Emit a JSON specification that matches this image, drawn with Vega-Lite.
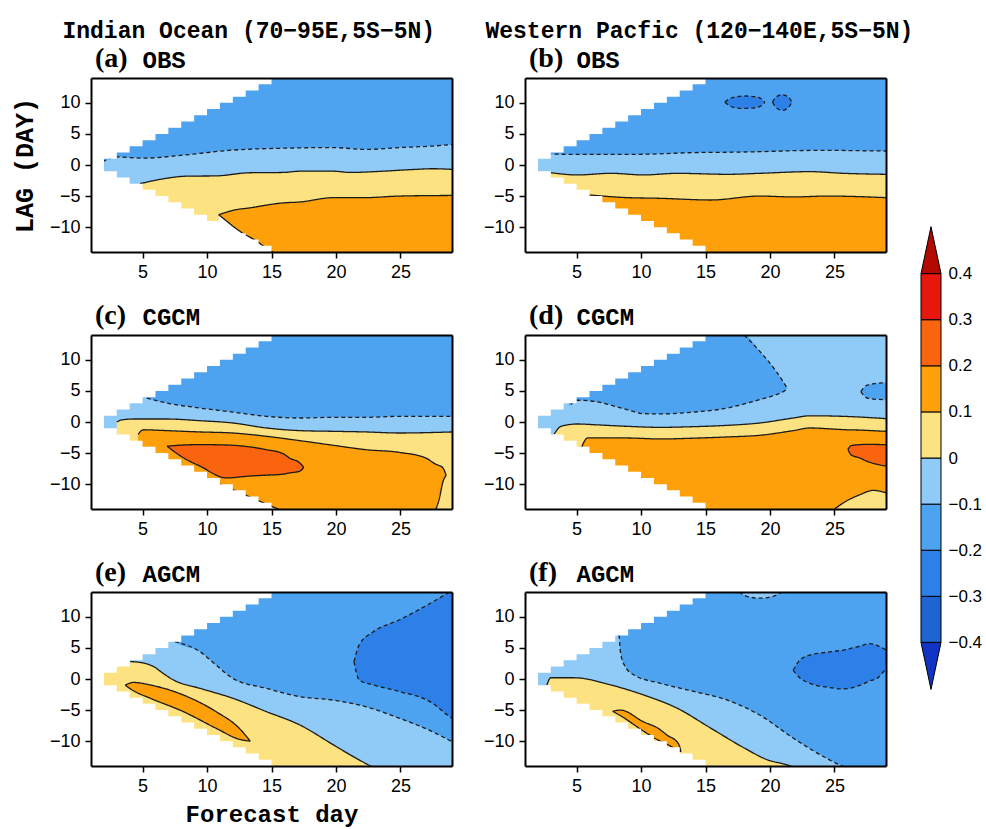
{
"$schema":"https://vega.github.io/schema/vega-lite/v6.json",
"background":"white",
"padding":{"left":12,"top":20,"right":0,"bottom":6},
"config":{"view":{"stroke":null},"title":{"color":"black"}},
"datasets":{
"msk":[{"x":1,"t":-1,"b":1},{"x":2,"t":1,"b":-1},{"x":3,"t":2,"b":-2},{"x":4,"t":3,"b":-3},{"x":5,"t":4,"b":-4},{"x":6,"t":5,"b":-5},{"x":7,"t":6,"b":-6},{"x":8,"t":7,"b":-7},{"x":9,"t":8,"b":-8},{"x":10,"t":9,"b":-9},{"x":11,"t":10,"b":-10},{"x":12,"t":11,"b":-11},{"x":13,"t":12,"b":-12},{"x":14,"t":13,"b":-13},{"x":15,"t":14,"b":-14}],
"cb":[{"lo":-0.5,"hi":-0.4,"v":-0.45},{"lo":-0.4,"hi":-0.3,"v":-0.35},{"lo":-0.3,"hi":-0.2,"v":-0.25},{"lo":-0.2,"hi":-0.1,"v":-0.15},{"lo":-0.1,"hi":0,"v":-0.05},{"lo":0,"hi":0.1,"v":0.05},{"lo":0.1,"hi":0.2,"v":0.15},{"lo":0.2,"hi":0.3,"v":0.25},{"lo":0.3,"hi":0.4,"v":0.35},{"lo":0.4,"hi":0.5,"v":0.45}],
"reg":[
{"p":"a","r":"a0","z":0,"v":-0.15,"x":1,"lo":-14,"hi":14},
{"p":"a","r":"a0","z":0,"v":-0.15,"x":29,"lo":-14,"hi":14},
{"p":"a","r":"a1","z":1,"v":-0.05,"x":1.9,"lo":-14,"hi":0.5,"hf":1},
{"p":"a","r":"a1","z":1,"v":-0.05,"x":3,"lo":-14,"hi":1.3,"hf":1},
{"p":"a","r":"a1","z":1,"v":-0.05,"x":5.1,"lo":-14,"hi":1.1,"hf":1},
{"p":"a","r":"a1","z":1,"v":-0.05,"x":8.2,"lo":-14,"hi":1.6,"hf":1},
{"p":"a","r":"a1","z":1,"v":-0.05,"x":12,"lo":-14,"hi":2.4,"hf":1},
{"p":"a","r":"a1","z":1,"v":-0.05,"x":15.9,"lo":-14,"hi":2.7,"hf":1},
{"p":"a","r":"a1","z":1,"v":-0.05,"x":19.8,"lo":-14,"hi":2.8,"hf":1},
{"p":"a","r":"a1","z":1,"v":-0.05,"x":22.3,"lo":-14,"hi":2.5,"hf":1},
{"p":"a","r":"a1","z":1,"v":-0.05,"x":24.9,"lo":-14,"hi":2.8,"hf":1},
{"p":"a","r":"a1","z":1,"v":-0.05,"x":27.5,"lo":-14,"hi":3.05,"hf":1},
{"p":"a","r":"a1","z":1,"v":-0.05,"x":29,"lo":-14,"hi":3.3,"hf":1},
{"p":"a","r":"a2","z":2,"v":0.05,"x":4.3,"lo":-14,"hi":-3.2},
{"p":"a","r":"a2","z":2,"v":0.05,"x":4.8,"lo":-14,"hi":-3.0,"hf":1},
{"p":"a","r":"a2","z":2,"v":0.05,"x":6.4,"lo":-14,"hi":-2.3,"hf":1},
{"p":"a","r":"a2","z":2,"v":0.05,"x":8.4,"lo":-14,"hi":-1.8,"hf":1},
{"p":"a","r":"a2","z":2,"v":0.05,"x":10.7,"lo":-14,"hi":-1.75,"hf":1},
{"p":"a","r":"a2","z":2,"v":0.05,"x":13.3,"lo":-14,"hi":-1.25,"hf":1},
{"p":"a","r":"a2","z":2,"v":0.05,"x":15.9,"lo":-14,"hi":-1.2,"hf":1},
{"p":"a","r":"a2","z":2,"v":0.05,"x":17.2,"lo":-14,"hi":-1.0,"hf":1},
{"p":"a","r":"a2","z":2,"v":0.05,"x":19.8,"lo":-14,"hi":-1.0,"hf":1},
{"p":"a","r":"a2","z":2,"v":0.05,"x":21.1,"lo":-14,"hi":-1.2,"hf":1},
{"p":"a","r":"a2","z":2,"v":0.05,"x":23.6,"lo":-14,"hi":-1.0,"hf":1},
{"p":"a","r":"a2","z":2,"v":0.05,"x":26.2,"lo":-14,"hi":-0.7,"hf":1},
{"p":"a","r":"a2","z":2,"v":0.05,"x":27.5,"lo":-14,"hi":-0.6,"hf":1},
{"p":"a","r":"a2","z":2,"v":0.05,"x":29,"lo":-14,"hi":-0.7,"hf":1},
{"p":"a","r":"a3","z":3,"v":0.15,"x":10.9,"lo":-14,"hi":-8.0,"hf":1},
{"p":"a","r":"a3","z":3,"v":0.15,"x":11.5,"lo":-14,"hi":-7.6,"hf":1},
{"p":"a","r":"a3","z":3,"v":0.15,"x":12,"lo":-14,"hi":-7.3,"hf":1},
{"p":"a","r":"a3","z":3,"v":0.15,"x":13.3,"lo":-14,"hi":-6.9,"hf":1},
{"p":"a","r":"a3","z":3,"v":0.15,"x":15.9,"lo":-14,"hi":-6.1,"hf":1},
{"p":"a","r":"a3","z":3,"v":0.15,"x":17.2,"lo":-14,"hi":-5.95,"hf":1},
{"p":"a","r":"a3","z":3,"v":0.15,"x":19.8,"lo":-14,"hi":-5.25,"hf":1},
{"p":"a","r":"a3","z":3,"v":0.15,"x":22.3,"lo":-14,"hi":-5.25,"hf":1},
{"p":"a","r":"a3","z":3,"v":0.15,"x":24.9,"lo":-14,"hi":-5.0,"hf":1},
{"p":"a","r":"a3","z":3,"v":0.15,"x":29,"lo":-14,"hi":-4.9,"hf":1},
{"p":"a","r":"a4","z":4,"v":9,"x":10.9,"lo":-14,"hi":-8.0,"hf":1},
{"p":"a","r":"a4","z":4,"v":9,"x":11.5,"lo":-14,"hi":-9.0,"hf":1},
{"p":"a","r":"a4","z":4,"v":9,"x":12.5,"lo":-14,"hi":-10.6,"hf":1},
{"p":"a","r":"a4","z":4,"v":9,"x":13.8,"lo":-14,"hi":-12.2,"hf":1},
{"p":"a","r":"a4","z":4,"v":9,"x":15.0,"lo":-14,"hi":-13.9,"hf":1},
{"p":"a","r":"a4","z":4,"v":9,"x":15.3,"lo":-14,"hi":-14.2,"hf":1},
{"p":"b","r":"b0","z":0,"v":-0.15,"x":1,"lo":-14,"hi":14},
{"p":"b","r":"b0","z":0,"v":-0.15,"x":29,"lo":-14,"hi":14},
{"p":"b","r":"b1","z":1,"v":-0.25,"x":16.5,"lo":10.1,"hi":10.1,"lf":1,"hf":1},
{"p":"b","r":"b1","z":1,"v":-0.25,"x":16.9,"lo":9.5,"hi":10.7,"lf":1,"hf":1},
{"p":"b","r":"b1","z":1,"v":-0.25,"x":17.5,"lo":9.15,"hi":11.0,"lf":1,"hf":1},
{"p":"b","r":"b1","z":1,"v":-0.25,"x":18.1,"lo":9.1,"hi":11.1,"lf":1,"hf":1},
{"p":"b","r":"b1","z":1,"v":-0.25,"x":18.8,"lo":9.2,"hi":11.0,"lf":1,"hf":1},
{"p":"b","r":"b1","z":1,"v":-0.25,"x":19.3,"lo":9.5,"hi":10.7,"lf":1,"hf":1},
{"p":"b","r":"b1","z":1,"v":-0.25,"x":19.6,"lo":10.1,"hi":10.1,"lf":1,"hf":1},
{"p":"b","r":"b2","z":1,"v":-0.25,"x":20.2,"lo":10.1,"hi":10.1,"lf":1,"hf":1},
{"p":"b","r":"b2","z":1,"v":-0.25,"x":20.45,"lo":9.3,"hi":10.9,"lf":1,"hf":1},
{"p":"b","r":"b2","z":1,"v":-0.25,"x":20.95,"lo":8.8,"hi":11.3,"lf":1,"hf":1},
{"p":"b","r":"b2","z":1,"v":-0.25,"x":21.45,"lo":9.3,"hi":10.9,"lf":1,"hf":1},
{"p":"b","r":"b2","z":1,"v":-0.25,"x":21.7,"lo":10.1,"hi":10.1,"lf":1,"hf":1},
{"p":"b","r":"b3","z":1,"v":-0.05,"x":1.5,"lo":-14,"hi":1.8},
{"p":"b","r":"b3","z":1,"v":-0.05,"x":3.3,"lo":-14,"hi":1.75,"hf":1},
{"p":"b","r":"b3","z":1,"v":-0.05,"x":5.5,"lo":-14,"hi":1.7,"hf":1},
{"p":"b","r":"b3","z":1,"v":-0.05,"x":8.9,"lo":-14,"hi":1.7,"hf":1},
{"p":"b","r":"b3","z":1,"v":-0.05,"x":11.5,"lo":-14,"hi":1.8,"hf":1},
{"p":"b","r":"b3","z":1,"v":-0.05,"x":14.1,"lo":-14,"hi":2.0,"hf":1},
{"p":"b","r":"b3","z":1,"v":-0.05,"x":16.7,"lo":-14,"hi":2.05,"hf":1},
{"p":"b","r":"b3","z":1,"v":-0.05,"x":19.2,"lo":-14,"hi":2.14,"hf":1},
{"p":"b","r":"b3","z":1,"v":-0.05,"x":21.8,"lo":-14,"hi":2.3,"hf":1},
{"p":"b","r":"b3","z":1,"v":-0.05,"x":24.4,"lo":-14,"hi":2.36,"hf":1},
{"p":"b","r":"b3","z":1,"v":-0.05,"x":26.9,"lo":-14,"hi":2.3,"hf":1},
{"p":"b","r":"b3","z":1,"v":-0.05,"x":29,"lo":-14,"hi":2.25,"hf":1},
{"p":"b","r":"b4","z":2,"v":0.05,"x":2.8,"lo":-14,"hi":-1.3},
{"p":"b","r":"b4","z":2,"v":0.05,"x":3.0,"lo":-14,"hi":-1.23,"hf":1},
{"p":"b","r":"b4","z":2,"v":0.05,"x":5.07,"lo":-14,"hi":-1.6,"hf":1},
{"p":"b","r":"b4","z":2,"v":0.05,"x":7.65,"lo":-14,"hi":-1.34,"hf":1},
{"p":"b","r":"b4","z":2,"v":0.05,"x":10.2,"lo":-14,"hi":-1.6,"hf":1},
{"p":"b","r":"b4","z":2,"v":0.05,"x":12.8,"lo":-14,"hi":-1.34,"hf":1},
{"p":"b","r":"b4","z":2,"v":0.05,"x":16.7,"lo":-14,"hi":-1.5,"hf":1},
{"p":"b","r":"b4","z":2,"v":0.05,"x":19.2,"lo":-14,"hi":-1.34,"hf":1},
{"p":"b","r":"b4","z":2,"v":0.05,"x":23.1,"lo":-14,"hi":-1.07,"hf":1},
{"p":"b","r":"b4","z":2,"v":0.05,"x":25.7,"lo":-14,"hi":-1.34,"hf":1},
{"p":"b","r":"b4","z":2,"v":0.05,"x":29,"lo":-14,"hi":-1.5,"hf":1},
{"p":"b","r":"b5","z":3,"v":0.15,"x":5.6,"lo":-14,"hi":-4.9},
{"p":"b","r":"b5","z":3,"v":0.15,"x":6.0,"lo":-14,"hi":-4.82,"hf":1},
{"p":"b","r":"b5","z":3,"v":0.15,"x":8.94,"lo":-14,"hi":-5.25,"hf":1},
{"p":"b","r":"b5","z":3,"v":0.15,"x":11.5,"lo":-14,"hi":-5.36,"hf":1},
{"p":"b","r":"b5","z":3,"v":0.15,"x":15.4,"lo":-14,"hi":-5.63,"hf":1},
{"p":"b","r":"b5","z":3,"v":0.15,"x":19.2,"lo":-14,"hi":-5.0,"hf":1},
{"p":"b","r":"b5","z":3,"v":0.15,"x":21.8,"lo":-14,"hi":-5.14,"hf":1},
{"p":"b","r":"b5","z":3,"v":0.15,"x":24.4,"lo":-14,"hi":-5.0,"hf":1},
{"p":"b","r":"b5","z":3,"v":0.15,"x":29,"lo":-14,"hi":-5.25,"hf":1},
{"p":"c","r":"c0","z":0,"v":-0.15,"x":1,"lo":-14,"hi":14},
{"p":"c","r":"c0","z":0,"v":-0.15,"x":29,"lo":-14,"hi":14},
{"p":"c","r":"c1","z":1,"v":-0.05,"x":1.5,"lo":-14,"hi":3.5},
{"p":"c","r":"c1","z":1,"v":-0.05,"x":4.8,"lo":-14,"hi":4.3},
{"p":"c","r":"c1","z":1,"v":-0.05,"x":5.33,"lo":-14,"hi":3.86,"hf":1},
{"p":"c","r":"c1","z":1,"v":-0.05,"x":6.9,"lo":-14,"hi":3.05,"hf":1},
{"p":"c","r":"c1","z":1,"v":-0.05,"x":9.45,"lo":-14,"hi":2.25,"hf":1},
{"p":"c","r":"c1","z":1,"v":-0.05,"x":12,"lo":-14,"hi":1.6,"hf":1},
{"p":"c","r":"c1","z":1,"v":-0.05,"x":14.6,"lo":-14,"hi":0.91,"hf":1},
{"p":"c","r":"c1","z":1,"v":-0.05,"x":17.2,"lo":-14,"hi":0.64,"hf":1},
{"p":"c","r":"c1","z":1,"v":-0.05,"x":19.8,"lo":-14,"hi":0.75,"hf":1},
{"p":"c","r":"c1","z":1,"v":-0.05,"x":22.3,"lo":-14,"hi":0.75,"hf":1},
{"p":"c","r":"c1","z":1,"v":-0.05,"x":24.9,"lo":-14,"hi":0.91,"hf":1},
{"p":"c","r":"c1","z":1,"v":-0.05,"x":29,"lo":-14,"hi":0.91,"hf":1},
{"p":"c","r":"c2","z":2,"v":0.05,"x":3.0,"lo":-14,"hi":0.0,"hf":1},
{"p":"c","r":"c2","z":2,"v":0.05,"x":3.4,"lo":-14,"hi":0.35,"hf":1},
{"p":"c","r":"c2","z":2,"v":0.05,"x":4.3,"lo":-14,"hi":0.48,"hf":1},
{"p":"c","r":"c2","z":2,"v":0.05,"x":6.9,"lo":-14,"hi":0.48,"hf":1},
{"p":"c","r":"c2","z":2,"v":0.05,"x":9.45,"lo":-14,"hi":0.21,"hf":1},
{"p":"c","r":"c2","z":2,"v":0.05,"x":12,"lo":-14,"hi":-0.16,"hf":1},
{"p":"c","r":"c2","z":2,"v":0.05,"x":14.6,"lo":-14,"hi":-0.96,"hf":1},
{"p":"c","r":"c2","z":2,"v":0.05,"x":17.2,"lo":-14,"hi":-1.39,"hf":1},
{"p":"c","r":"c2","z":2,"v":0.05,"x":19.8,"lo":-14,"hi":-1.5,"hf":1},
{"p":"c","r":"c2","z":2,"v":0.05,"x":22.3,"lo":-14,"hi":-1.6,"hf":1},
{"p":"c","r":"c2","z":2,"v":0.05,"x":24.9,"lo":-14,"hi":-1.77,"hf":1},
{"p":"c","r":"c2","z":2,"v":0.05,"x":29,"lo":-14,"hi":-1.6,"hf":1},
{"p":"c","r":"c3","z":3,"v":0.15,"x":4.65,"lo":-3.0,"hi":-2.0,"hf":1},
{"p":"c","r":"c3","z":3,"v":0.15,"x":5.07,"lo":-14,"hi":-1.25,"hf":1},
{"p":"c","r":"c3","z":3,"v":0.15,"x":6.9,"lo":-14,"hi":-1.39,"hf":1},
{"p":"c","r":"c3","z":3,"v":0.15,"x":9.45,"lo":-14,"hi":-1.6,"hf":1},
{"p":"c","r":"c3","z":3,"v":0.15,"x":12,"lo":-14,"hi":-1.77,"hf":1},
{"p":"c","r":"c3","z":3,"v":0.15,"x":14.6,"lo":-14,"hi":-2.3,"hf":1},
{"p":"c","r":"c3","z":3,"v":0.15,"x":17.2,"lo":-14,"hi":-3.0,"hf":1},
{"p":"c","r":"c3","z":3,"v":0.15,"x":19.8,"lo":-14,"hi":-3.75,"hf":1},
{"p":"c","r":"c3","z":3,"v":0.15,"x":22.3,"lo":-14,"hi":-4.45,"hf":1},
{"p":"c","r":"c3","z":3,"v":0.15,"x":24.9,"lo":-14,"hi":-4.88,"hf":1},
{"p":"c","r":"c3","z":3,"v":0.15,"x":26.98,"lo":-14,"hi":-5.8,"hf":1},
{"p":"c","r":"c3","z":3,"v":0.15,"x":27.75,"lo":-14,"hi":-6.8,"lf":1,"hf":1},
{"p":"c","r":"c3","z":3,"v":0.15,"x":28.0,"lo":-12.5,"hi":-7.0,"lf":1,"hf":1},
{"p":"c","r":"c3","z":3,"v":0.15,"x":28.3,"lo":-9.6,"hi":-7.4,"lf":1,"hf":1},
{"p":"c","r":"c3","z":3,"v":0.15,"x":28.55,"lo":-8.6,"hi":-8.6,"lf":1,"hf":1},
{"p":"c","r":"c4","z":4,"v":0.25,"x":6.9,"lo":-3.9,"hi":-3.9,"lf":1,"hf":1},
{"p":"c","r":"c4","z":4,"v":0.25,"x":8.2,"lo":-5.8,"hi":-3.7,"lf":1,"hf":1},
{"p":"c","r":"c4","z":4,"v":0.25,"x":9.45,"lo":-7.1,"hi":-3.64,"lf":1,"hf":1},
{"p":"c","r":"c4","z":4,"v":0.25,"x":11.5,"lo":-9.0,"hi":-3.7,"lf":1,"hf":1},
{"p":"c","r":"c4","z":4,"v":0.25,"x":13.3,"lo":-8.7,"hi":-4.0,"lf":1,"hf":1},
{"p":"c","r":"c4","z":4,"v":0.25,"x":14.6,"lo":-8.55,"hi":-4.45,"lf":1,"hf":1},
{"p":"c","r":"c4","z":4,"v":0.25,"x":15.9,"lo":-8.4,"hi":-5.1,"lf":1,"hf":1},
{"p":"c","r":"c4","z":4,"v":0.25,"x":16.4,"lo":-8.2,"hi":-5.8,"lf":1,"hf":1},
{"p":"c","r":"c4","z":4,"v":0.25,"x":17.2,"lo":-7.9,"hi":-6.6,"lf":1,"hf":1},
{"p":"c","r":"c4","z":4,"v":0.25,"x":17.5,"lo":-7.3,"hi":-7.3,"lf":1,"hf":1},
{"p":"c","r":"c5","z":4,"v":9,"x":11.0,"lo":-14,"hi":-10.0,"hf":1},
{"p":"c","r":"c5","z":4,"v":9,"x":15.6,"lo":-14,"hi":-14.1,"hf":1},
{"p":"d","r":"d0","z":0,"v":-0.05,"x":1,"lo":-14,"hi":14},
{"p":"d","r":"d0","z":0,"v":-0.05,"x":29,"lo":-14,"hi":14},
{"p":"d","r":"d1","z":1,"v":-0.15,"x":4.4,"lo":2.6,"hi":14},
{"p":"d","r":"d1","z":1,"v":-0.15,"x":4.56,"lo":2.8,"hi":14,"lf":1},
{"p":"d","r":"d1","z":1,"v":-0.15,"x":5.07,"lo":3.5,"hi":14,"lf":1},
{"p":"d","r":"d1","z":1,"v":-0.15,"x":6.4,"lo":3.3,"hi":14,"lf":1},
{"p":"d","r":"d1","z":1,"v":-0.15,"x":8.9,"lo":2.0,"hi":14,"lf":1},
{"p":"d","r":"d1","z":1,"v":-0.15,"x":10.2,"lo":1.34,"hi":14,"lf":1},
{"p":"d","r":"d1","z":1,"v":-0.15,"x":11.5,"lo":1.3,"hi":14,"lf":1},
{"p":"d","r":"d1","z":1,"v":-0.15,"x":14.1,"lo":1.6,"hi":14,"lf":1},
{"p":"d","r":"d1","z":1,"v":-0.15,"x":16.7,"lo":2.25,"hi":14,"lf":1},
{"p":"d","r":"d1","z":1,"v":-0.15,"x":18.0,"lo":2.9,"hi":14,"lf":1,"hf":1},
{"p":"d","r":"d1","z":1,"v":-0.15,"x":19.2,"lo":3.6,"hi":11.4,"lf":1,"hf":1},
{"p":"d","r":"d1","z":1,"v":-0.15,"x":20.5,"lo":4.4,"hi":8.1,"lf":1,"hf":1},
{"p":"d","r":"d1","z":1,"v":-0.15,"x":21.05,"lo":4.9,"hi":6.4,"lf":1,"hf":1},
{"p":"d","r":"d1","z":1,"v":-0.15,"x":21.35,"lo":5.4,"hi":5.4,"lf":1,"hf":1},
{"p":"d","r":"d2","z":1,"v":-0.15,"x":27.05,"lo":4.9,"hi":4.9,"lf":1,"hf":1},
{"p":"d","r":"d2","z":1,"v":-0.15,"x":27.5,"lo":3.9,"hi":5.9,"lf":1,"hf":1},
{"p":"d","r":"d2","z":1,"v":-0.15,"x":28.2,"lo":3.65,"hi":6.2,"lf":1,"hf":1},
{"p":"d","r":"d2","z":1,"v":-0.15,"x":29,"lo":3.6,"hi":6.3,"lf":1,"hf":1},
{"p":"d","r":"d3","z":1,"v":0.05,"x":3.0,"lo":-14,"hi":-2.5},
{"p":"d","r":"d3","z":1,"v":0.05,"x":3.27,"lo":-14,"hi":-1.93,"hf":1},
{"p":"d","r":"d3","z":1,"v":0.05,"x":3.8,"lo":-14,"hi":-0.7,"hf":1},
{"p":"d","r":"d3","z":1,"v":0.05,"x":5.07,"lo":-14,"hi":-0.32,"hf":1},
{"p":"d","r":"d3","z":1,"v":0.05,"x":6.5,"lo":-14,"hi":-0.45,"hf":1},
{"p":"d","r":"d3","z":1,"v":0.05,"x":8.94,"lo":-14,"hi":-0.7,"hf":1},
{"p":"d","r":"d3","z":1,"v":0.05,"x":11.5,"lo":-14,"hi":-0.86,"hf":1},
{"p":"d","r":"d3","z":1,"v":0.05,"x":14.1,"lo":-14,"hi":-0.75,"hf":1},
{"p":"d","r":"d3","z":1,"v":0.05,"x":16.7,"lo":-14,"hi":-0.54,"hf":1},
{"p":"d","r":"d3","z":1,"v":0.05,"x":19.2,"lo":-14,"hi":-0.16,"hf":1},
{"p":"d","r":"d3","z":1,"v":0.05,"x":21.8,"lo":-14,"hi":0.64,"hf":1},
{"p":"d","r":"d3","z":1,"v":0.05,"x":23.1,"lo":-14,"hi":1.0,"hf":1},
{"p":"d","r":"d3","z":1,"v":0.05,"x":25.7,"lo":-14,"hi":0.91,"hf":1},
{"p":"d","r":"d3","z":1,"v":0.05,"x":29,"lo":-14,"hi":0.54,"hf":1},
{"p":"d","r":"d4","z":2,"v":0.15,"x":5.4,"lo":-14,"hi":-4.0,"hf":1},
{"p":"d","r":"d4","z":2,"v":0.15,"x":5.85,"lo":-14,"hi":-2.57,"hf":1},
{"p":"d","r":"d4","z":2,"v":0.15,"x":8.9,"lo":-14,"hi":-2.57,"hf":1},
{"p":"d","r":"d4","z":2,"v":0.15,"x":11.5,"lo":-14,"hi":-2.73,"hf":1},
{"p":"d","r":"d4","z":2,"v":0.15,"x":14.1,"lo":-14,"hi":-2.6,"hf":1},
{"p":"d","r":"d4","z":2,"v":0.15,"x":16.7,"lo":-14,"hi":-2.4,"hf":1},
{"p":"d","r":"d4","z":2,"v":0.15,"x":19.2,"lo":-14,"hi":-2.14,"hf":1},
{"p":"d","r":"d4","z":2,"v":0.15,"x":21.8,"lo":-14,"hi":-1.39,"hf":1},
{"p":"d","r":"d4","z":2,"v":0.15,"x":23.1,"lo":-14,"hi":-0.96,"hf":1},
{"p":"d","r":"d4","z":2,"v":0.15,"x":25.0,"lo":-14,"hi":-1.15,"lf":1,"hf":1},
{"p":"d","r":"d4","z":2,"v":0.15,"x":25.9,"lo":-12.75,"hi":-1.25,"lf":1,"hf":1},
{"p":"d","r":"d4","z":2,"v":0.15,"x":26.98,"lo":-11.7,"hi":-1.3,"lf":1,"hf":1},
{"p":"d","r":"d4","z":2,"v":0.15,"x":28.0,"lo":-11.0,"hi":-1.4,"lf":1,"hf":1},
{"p":"d","r":"d4","z":2,"v":0.15,"x":29,"lo":-11.4,"hi":-1.5,"lf":1,"hf":1},
{"p":"d","r":"d5","z":3,"v":0.25,"x":26.05,"lo":-4.4,"hi":-4.4,"lf":1,"hf":1},
{"p":"d","r":"d5","z":3,"v":0.25,"x":26.3,"lo":-5.3,"hi":-3.8,"lf":1,"hf":1},
{"p":"d","r":"d5","z":3,"v":0.25,"x":26.98,"lo":-5.8,"hi":-3.64,"lf":1,"hf":1},
{"p":"d","r":"d5","z":3,"v":0.25,"x":27.5,"lo":-6.3,"hi":-3.6,"lf":1,"hf":1},
{"p":"d","r":"d5","z":3,"v":0.25,"x":28.3,"lo":-6.8,"hi":-3.62,"lf":1,"hf":1},
{"p":"d","r":"d5","z":3,"v":0.25,"x":29,"lo":-7.1,"hi":-3.64,"lf":1,"hf":1},
{"p":"e","r":"e0","z":0,"v":-0.05,"x":1,"lo":-14,"hi":14},
{"p":"e","r":"e0","z":0,"v":-0.05,"x":29,"lo":-14,"hi":14},
{"p":"e","r":"e1","z":1,"v":-0.15,"x":7.2,"lo":6.8,"hi":14},
{"p":"e","r":"e1","z":1,"v":-0.15,"x":7.5,"lo":6.0,"hi":14,"lf":1},
{"p":"e","r":"e1","z":1,"v":-0.15,"x":9.45,"lo":4.4,"hi":14,"lf":1},
{"p":"e","r":"e1","z":1,"v":-0.15,"x":10.7,"lo":2.25,"hi":14,"lf":1},
{"p":"e","r":"e1","z":1,"v":-0.15,"x":12.0,"lo":0.1,"hi":14,"lf":1},
{"p":"e","r":"e1","z":1,"v":-0.15,"x":14.6,"lo":-1.5,"hi":14,"lf":1},
{"p":"e","r":"e1","z":1,"v":-0.15,"x":17.2,"lo":-2.84,"hi":14,"lf":1},
{"p":"e","r":"e1","z":1,"v":-0.15,"x":19.8,"lo":-3.4,"hi":14,"lf":1},
{"p":"e","r":"e1","z":1,"v":-0.15,"x":22.3,"lo":-4.45,"hi":14,"lf":1},
{"p":"e","r":"e1","z":1,"v":-0.15,"x":24.9,"lo":-6.3,"hi":14,"lf":1},
{"p":"e","r":"e1","z":1,"v":-0.15,"x":27.5,"lo":-8.5,"hi":14,"lf":1},
{"p":"e","r":"e1","z":1,"v":-0.15,"x":29,"lo":-10.1,"hi":14,"lf":1},
{"p":"e","r":"e2","z":2,"v":-0.25,"x":21.4,"lo":2.8,"hi":2.8,"lf":1,"hf":1},
{"p":"e","r":"e2","z":2,"v":-0.25,"x":21.8,"lo":-0.16,"hi":5.5,"lf":1,"hf":1},
{"p":"e","r":"e2","z":2,"v":-0.25,"x":22.9,"lo":-0.96,"hi":7.6,"lf":1,"hf":1},
{"p":"e","r":"e2","z":2,"v":-0.25,"x":24.9,"lo":-2.0,"hi":9.5,"lf":1,"hf":1},
{"p":"e","r":"e2","z":2,"v":-0.25,"x":27.5,"lo":-3.9,"hi":12.4,"lf":1,"hf":1},
{"p":"e","r":"e2","z":2,"v":-0.25,"x":28.65,"lo":-5.8,"hi":13.8,"lf":1,"hf":1},
{"p":"e","r":"e2","z":2,"v":-0.25,"x":29,"lo":-6.3,"hi":14.2,"lf":1,"hf":1},
{"p":"e","r":"e3","z":1,"v":0.05,"x":1.5,"lo":-14,"hi":14},
{"p":"e","r":"e3","z":1,"v":0.05,"x":3.8,"lo":-14,"hi":14},
{"p":"e","r":"e3","z":1,"v":0.05,"x":4.04,"lo":-14,"hi":2.8,"hf":1},
{"p":"e","r":"e3","z":1,"v":0.05,"x":5.0,"lo":-14,"hi":2.6,"hf":1},
{"p":"e","r":"e3","z":1,"v":0.05,"x":5.85,"lo":-14,"hi":2.0,"hf":1},
{"p":"e","r":"e3","z":1,"v":0.05,"x":6.6,"lo":-14,"hi":0.9,"hf":1},
{"p":"e","r":"e3","z":1,"v":0.05,"x":7.4,"lo":-14,"hi":-0.16,"hf":1},
{"p":"e","r":"e3","z":1,"v":0.05,"x":9.45,"lo":-14,"hi":-1.5,"hf":1},
{"p":"e","r":"e3","z":1,"v":0.05,"x":12.0,"lo":-14,"hi":-3.1,"hf":1},
{"p":"e","r":"e3","z":1,"v":0.05,"x":14.6,"lo":-14,"hi":-5.25,"hf":1},
{"p":"e","r":"e3","z":1,"v":0.05,"x":17.2,"lo":-14,"hi":-7.4,"hf":1},
{"p":"e","r":"e3","z":1,"v":0.05,"x":19.8,"lo":-14,"hi":-10.6,"hf":1},
{"p":"e","r":"e3","z":1,"v":0.05,"x":21.1,"lo":-14,"hi":-12.2,"hf":1},
{"p":"e","r":"e3","z":1,"v":0.05,"x":22.5,"lo":-14,"hi":-13.8,"hf":1},
{"p":"e","r":"e3","z":1,"v":0.05,"x":23,"lo":-14,"hi":-14.3,"hf":1},
{"p":"e","r":"e4","z":2,"v":0.15,"x":3.65,"lo":-1.0,"hi":-1.0,"lf":1,"hf":1},
{"p":"e","r":"e4","z":2,"v":0.15,"x":4.3,"lo":-1.9,"hi":-0.55,"lf":1,"hf":1},
{"p":"e","r":"e4","z":2,"v":0.15,"x":5.6,"lo":-3.1,"hi":-0.96,"lf":1,"hf":1},
{"p":"e","r":"e4","z":2,"v":0.15,"x":8.16,"lo":-5.25,"hi":-2.57,"lf":1,"hf":1},
{"p":"e","r":"e4","z":2,"v":0.15,"x":10.7,"lo":-7.93,"hi":-5.25,"lf":1,"hf":1},
{"p":"e","r":"e4","z":2,"v":0.15,"x":12.5,"lo":-9.7,"hi":-7.93,"lf":1,"hf":1},
{"p":"e","r":"e4","z":2,"v":0.15,"x":13.35,"lo":-10.0,"hi":-10.0,"lf":1,"hf":1},
{"p":"f","r":"f0","z":0,"v":-0.05,"x":1,"lo":-14,"hi":14},
{"p":"f","r":"f0","z":0,"v":-0.05,"x":29,"lo":-14,"hi":14},
{"p":"f","r":"f1","z":1,"v":-0.15,"x":8.2,"lo":7.5,"hi":14},
{"p":"f","r":"f1","z":1,"v":-0.15,"x":8.3,"lo":7.1,"hi":14,"lf":1},
{"p":"f","r":"f1","z":1,"v":-0.15,"x":8.4,"lo":4.4,"hi":14,"lf":1},
{"p":"f","r":"f1","z":1,"v":-0.15,"x":8.7,"lo":2.25,"hi":14,"lf":1},
{"p":"f","r":"f1","z":1,"v":-0.15,"x":9.45,"lo":0.64,"hi":14,"lf":1},
{"p":"f","r":"f1","z":1,"v":-0.15,"x":11.5,"lo":-0.7,"hi":14,"lf":1},
{"p":"f","r":"f1","z":1,"v":-0.15,"x":14.1,"lo":-2.0,"hi":14,"lf":1},
{"p":"f","r":"f1","z":1,"v":-0.15,"x":16.7,"lo":-3.4,"hi":14,"lf":1},
{"p":"f","r":"f1","z":1,"v":-0.15,"x":19.2,"lo":-5.8,"hi":14,"lf":1},
{"p":"f","r":"f1","z":1,"v":-0.15,"x":21.8,"lo":-9.5,"hi":14,"lf":1},
{"p":"f","r":"f1","z":1,"v":-0.15,"x":23.9,"lo":-12.2,"hi":14,"lf":1},
{"p":"f","r":"f1","z":1,"v":-0.15,"x":25.4,"lo":-13.8,"hi":14,"lf":1},
{"p":"f","r":"f1","z":1,"v":-0.15,"x":26,"lo":-14.3,"hi":14,"lf":1},
{"p":"f","r":"f1","z":1,"v":-0.15,"x":29,"lo":-14.3,"hi":14},
{"p":"f","r":"f2","z":2,"v":-0.05,"x":17.6,"lo":14,"hi":14,"lf":1},
{"p":"f","r":"f2","z":2,"v":-0.05,"x":18.2,"lo":13.3,"hi":14,"lf":1},
{"p":"f","r":"f2","z":2,"v":-0.05,"x":19.2,"lo":13.0,"hi":14,"lf":1},
{"p":"f","r":"f2","z":2,"v":-0.05,"x":20.0,"lo":13.2,"hi":14,"lf":1},
{"p":"f","r":"f2","z":2,"v":-0.05,"x":20.5,"lo":13.5,"hi":14,"lf":1},
{"p":"f","r":"f2","z":2,"v":-0.05,"x":20.9,"lo":14,"hi":14,"lf":1},
{"p":"f","r":"f3","z":2,"v":-0.25,"x":21.8,"lo":1.4,"hi":1.4,"lf":1,"hf":1},
{"p":"f","r":"f3","z":2,"v":-0.25,"x":22.3,"lo":0.2,"hi":3.0,"lf":1,"hf":1},
{"p":"f","r":"f3","z":2,"v":-0.25,"x":23.1,"lo":-0.7,"hi":3.86,"lf":1,"hf":1},
{"p":"f","r":"f3","z":2,"v":-0.25,"x":24.4,"lo":-1.3,"hi":4.3,"lf":1,"hf":1},
{"p":"f","r":"f3","z":2,"v":-0.25,"x":25.7,"lo":-1.6,"hi":4.66,"lf":1,"hf":1},
{"p":"f","r":"f3","z":2,"v":-0.25,"x":27.0,"lo":-1.0,"hi":5.3,"lf":1,"hf":1},
{"p":"f","r":"f3","z":2,"v":-0.25,"x":27.75,"lo":-0.3,"hi":5.7,"lf":1,"hf":1},
{"p":"f","r":"f3","z":2,"v":-0.25,"x":28.3,"lo":0.1,"hi":5.4,"lf":1,"hf":1},
{"p":"f","r":"f3","z":2,"v":-0.25,"x":29,"lo":1.7,"hi":4.66,"lf":1,"hf":1},
{"p":"f","r":"f4","z":1,"v":0.05,"x":2.0,"lo":-14,"hi":-1.5},
{"p":"f","r":"f4","z":1,"v":0.05,"x":2.7,"lo":-14,"hi":-0.96,"hf":1},
{"p":"f","r":"f4","z":1,"v":0.05,"x":3.0,"lo":-14,"hi":0.2,"hf":1},
{"p":"f","r":"f4","z":1,"v":0.05,"x":4.8,"lo":-14,"hi":0.2,"hf":1},
{"p":"f","r":"f4","z":1,"v":0.05,"x":7.65,"lo":-14,"hi":-0.96,"hf":1},
{"p":"f","r":"f4","z":1,"v":0.05,"x":10.2,"lo":-14,"hi":-2.57,"hf":1},
{"p":"f","r":"f4","z":1,"v":0.05,"x":12.8,"lo":-14,"hi":-4.7,"hf":1},
{"p":"f","r":"f4","z":1,"v":0.05,"x":15.4,"lo":-14,"hi":-7.9,"hf":1},
{"p":"f","r":"f4","z":1,"v":0.05,"x":18.0,"lo":-14,"hi":-11.1,"hf":1},
{"p":"f","r":"f4","z":1,"v":0.05,"x":19.8,"lo":-14,"hi":-13.0,"hf":1},
{"p":"f","r":"f4","z":1,"v":0.05,"x":21.3,"lo":-14,"hi":-13.8,"hf":1},
{"p":"f","r":"f4","z":1,"v":0.05,"x":22,"lo":-14,"hi":-14.3,"hf":1},
{"p":"f","r":"f5","z":2,"v":0.15,"x":7.8,"lo":-5.2,"hi":-5.2,"lf":1,"hf":1},
{"p":"f","r":"f5","z":2,"v":0.15,"x":8.4,"lo":-5.9,"hi":-5.0,"lf":1,"hf":1},
{"p":"f","r":"f5","z":2,"v":0.15,"x":10.2,"lo":-8.4,"hi":-6.9,"lf":1,"hf":1},
{"p":"f","r":"f5","z":2,"v":0.15,"x":11.3,"lo":-9.8,"hi":-7.9,"lf":1,"hf":1},
{"p":"f","r":"f5","z":2,"v":0.15,"x":12.0,"lo":-10.5,"hi":-9.0,"lf":1,"hf":1},
{"p":"f","r":"f5","z":2,"v":0.15,"x":12.9,"lo":-11.5,"hi":-10.4,"lf":1,"hf":1},
{"p":"f","r":"f5","z":2,"v":0.15,"x":13.1,"lo":-11.7,"hi":-11.7,"lf":1,"hf":1}
]},
"hconcat":[
{"hconcat":[
{"title":{"text":"Indian Ocean (70−95E,5S−5N)","anchor":"start","font":"Liberation Mono","fontSize":23,"fontWeight":"bold","dx":50,"offset":2},
 "spacing":21,
 "vconcat":[
 {"width":361,"height":174,
  "title":{"text":"(a)","anchor":"start","frame":"group","font":"Liberation Serif","fontSize":28,"fontWeight":"bold","dx":4,"offset":-47,"baseline":"alphabetic"},
  "layer":[
    {"data":{"name":"reg"},"transform":[{"filter":"datum.p=='a' && datum.z==0"}],"mark":{"type":"area","interpolate":"monotone","clip":true},"encoding":{"x":{"field":"x","type":"quantitative","scale":{"domain":[1,29],"nice":false,"zero":false},"axis":{"orient":"bottom","values":[5,10,15,20,25],"title":null,"zindex":1,"domainColor":"black","domainWidth":2,"tickColor":"black","tickWidth":1.5,"tickSize":6,"labelFont":"Liberation Sans","labelFontSize":18,"labelColor":"black","labelPadding":5,"grid":false}},"y":{"field":"lo","type":"quantitative","stack":null,"scale":{"domain":[-14,14],"nice":false,"zero":false},"axis":{"orient":"left","values":[-10,-5,0,5,10],"title":"LAG (DAY)","titleFont":"Liberation Mono","titleFontSize":25,"titleFontWeight":"bold","titleColor":"black","titlePadding":12,"zindex":1,"domainColor":"black","domainWidth":2,"tickColor":"black","tickWidth":1.5,"tickSize":6,"labelFont":"Liberation Sans","labelFontSize":18,"labelColor":"black","labelPadding":5,"grid":false}},"y2":{"field":"hi"},"color":{"field":"v","type":"quantitative","legend":null,"scale":{"type":"threshold","domain":[-0.4,-0.3,-0.2,-0.1,0,0.1,0.2,0.3,0.4,1],"range":["#1234C4","#1E64D2","#2D80E8","#4DA3F0","#90CBF7","#FDE282","#FDA00A","#FA640F","#E8170E","#B20A00","#FFFFFF"]}},"detail":{"field":"r"}}},
    {"data":{"name":"reg"},"transform":[{"filter":"datum.p=='a' && datum.z==1"}],"mark":{"type":"area","interpolate":"monotone","clip":true},"encoding":{"x":{"field":"x","type":"quantitative","scale":{"domain":[1,29],"nice":false,"zero":false},"axis":null},"y":{"field":"lo","type":"quantitative","stack":null,"scale":{"domain":[-14,14],"nice":false,"zero":false},"axis":null},"y2":{"field":"hi"},"color":{"field":"v","type":"quantitative","legend":null,"scale":{"type":"threshold","domain":[-0.4,-0.3,-0.2,-0.1,0,0.1,0.2,0.3,0.4,1],"range":["#1234C4","#1E64D2","#2D80E8","#4DA3F0","#90CBF7","#FDE282","#FDA00A","#FA640F","#E8170E","#B20A00","#FFFFFF"]}},"detail":{"field":"r"}}},
    {"data":{"name":"reg"},"transform":[{"filter":"datum.p=='a' && datum.z==2"}],"mark":{"type":"area","interpolate":"monotone","clip":true},"encoding":{"x":{"field":"x","type":"quantitative","scale":{"domain":[1,29],"nice":false,"zero":false},"axis":null},"y":{"field":"lo","type":"quantitative","stack":null,"scale":{"domain":[-14,14],"nice":false,"zero":false},"axis":null},"y2":{"field":"hi"},"color":{"field":"v","type":"quantitative","legend":null,"scale":{"type":"threshold","domain":[-0.4,-0.3,-0.2,-0.1,0,0.1,0.2,0.3,0.4,1],"range":["#1234C4","#1E64D2","#2D80E8","#4DA3F0","#90CBF7","#FDE282","#FDA00A","#FA640F","#E8170E","#B20A00","#FFFFFF"]}},"detail":{"field":"r"}}},
    {"data":{"name":"reg"},"transform":[{"filter":"datum.p=='a' && datum.z==3"}],"mark":{"type":"area","interpolate":"monotone","clip":true},"encoding":{"x":{"field":"x","type":"quantitative","scale":{"domain":[1,29],"nice":false,"zero":false},"axis":null},"y":{"field":"lo","type":"quantitative","stack":null,"scale":{"domain":[-14,14],"nice":false,"zero":false},"axis":null},"y2":{"field":"hi"},"color":{"field":"v","type":"quantitative","legend":null,"scale":{"type":"threshold","domain":[-0.4,-0.3,-0.2,-0.1,0,0.1,0.2,0.3,0.4,1],"range":["#1234C4","#1E64D2","#2D80E8","#4DA3F0","#90CBF7","#FDE282","#FDA00A","#FA640F","#E8170E","#B20A00","#FFFFFF"]}},"detail":{"field":"r"}}},
    {"data":{"name":"reg"},"transform":[{"filter":"datum.p=='a' && datum.z==4"}],"mark":{"type":"area","interpolate":"monotone","clip":true},"encoding":{"x":{"field":"x","type":"quantitative","scale":{"domain":[1,29],"nice":false,"zero":false},"axis":null},"y":{"field":"lo","type":"quantitative","stack":null,"scale":{"domain":[-14,14],"nice":false,"zero":false},"axis":null},"y2":{"field":"hi"},"color":{"field":"v","type":"quantitative","legend":null,"scale":{"type":"threshold","domain":[-0.4,-0.3,-0.2,-0.1,0,0.1,0.2,0.3,0.4,1],"range":["#1234C4","#1E64D2","#2D80E8","#4DA3F0","#90CBF7","#FDE282","#FDA00A","#FA640F","#E8170E","#B20A00","#FFFFFF"]}},"detail":{"field":"r"}}},
    {"data":{"name":"reg"},"transform":[{"filter":"datum.p=='a'"},{"fold":["lo","hi"],"as":["e","yy"]},{"filter":"(datum.e=='lo' && datum.lf==1) || (datum.e=='hi' && datum.hf==1)"}],"mark":{"type":"line","interpolate":"monotone","clip":true,"color":"#1b1b1b","strokeWidth":1.3},"encoding":{"x":{"field":"x","type":"quantitative","scale":{"domain":[1,29],"nice":false,"zero":false},"axis":null},"y":{"field":"yy","type":"quantitative","scale":{"domain":[-14,14],"nice":false,"zero":false},"axis":null},"detail":[{"field":"r"},{"field":"e"}],"strokeDash":{"condition":{"test":"datum.v < 0","value":[4,3]},"value":[1,0]}}},
    {"data":{"name":"msk"},"mark":{"type":"area","interpolate":"step-after","color":"white","clip":true},"encoding":{"x":{"field":"x","type":"quantitative","scale":{"domain":[1,29],"nice":false,"zero":false},"axis":{"orient":"top","labels":false,"ticks":false,"title":"OBS","titleFont":"Liberation Mono","titleFontSize":24,"titleFontWeight":"bold","titleColor":"black","titleAlign":"left","titleAnchor":"start","titleX":51,"titleY":-11,"titleBaseline":"alphabetic","zindex":1,"domainColor":"black","domainWidth":2,"grid":false}},"y":{"field":"t","type":"quantitative","stack":null,"scale":{"domain":[-14,14],"nice":false,"zero":false},"axis":{"orient":"right","labels":false,"ticks":false,"title":null,"zindex":1,"domainColor":"black","domainWidth":2,"grid":false}},"y2":{"datum":14}}},
    {"data":{"name":"msk"},"mark":{"type":"area","interpolate":"step-after","color":"white","clip":true},"encoding":{"x":{"field":"x","type":"quantitative","scale":{"domain":[1,29],"nice":false,"zero":false},"axis":null},"y":{"field":"b","type":"quantitative","stack":null,"scale":{"domain":[-14,14],"nice":false,"zero":false},"axis":null},"y2":{"datum":-14}}}
  ],
  "resolve":{"axis":{"x":"independent","y":"independent"}}
 },
 {"width":361,"height":174,
  "title":{"text":"(c)","anchor":"start","frame":"group","font":"Liberation Serif","fontSize":28,"fontWeight":"bold","dx":4,"offset":-47,"baseline":"alphabetic"},
  "layer":[
    {"data":{"name":"reg"},"transform":[{"filter":"datum.p=='c' && datum.z==0"}],"mark":{"type":"area","interpolate":"monotone","clip":true},"encoding":{"x":{"field":"x","type":"quantitative","scale":{"domain":[1,29],"nice":false,"zero":false},"axis":{"orient":"bottom","values":[5,10,15,20,25],"title":null,"zindex":1,"domainColor":"black","domainWidth":2,"tickColor":"black","tickWidth":1.5,"tickSize":6,"labelFont":"Liberation Sans","labelFontSize":18,"labelColor":"black","labelPadding":5,"grid":false}},"y":{"field":"lo","type":"quantitative","stack":null,"scale":{"domain":[-14,14],"nice":false,"zero":false},"axis":{"orient":"left","values":[-10,-5,0,5,10],"title":null,"zindex":1,"domainColor":"black","domainWidth":2,"tickColor":"black","tickWidth":1.5,"tickSize":6,"labelFont":"Liberation Sans","labelFontSize":18,"labelColor":"black","labelPadding":5,"grid":false}},"y2":{"field":"hi"},"color":{"field":"v","type":"quantitative","legend":null,"scale":{"type":"threshold","domain":[-0.4,-0.3,-0.2,-0.1,0,0.1,0.2,0.3,0.4,1],"range":["#1234C4","#1E64D2","#2D80E8","#4DA3F0","#90CBF7","#FDE282","#FDA00A","#FA640F","#E8170E","#B20A00","#FFFFFF"]}},"detail":{"field":"r"}}},
    {"data":{"name":"reg"},"transform":[{"filter":"datum.p=='c' && datum.z==1"}],"mark":{"type":"area","interpolate":"monotone","clip":true},"encoding":{"x":{"field":"x","type":"quantitative","scale":{"domain":[1,29],"nice":false,"zero":false},"axis":null},"y":{"field":"lo","type":"quantitative","stack":null,"scale":{"domain":[-14,14],"nice":false,"zero":false},"axis":null},"y2":{"field":"hi"},"color":{"field":"v","type":"quantitative","legend":null,"scale":{"type":"threshold","domain":[-0.4,-0.3,-0.2,-0.1,0,0.1,0.2,0.3,0.4,1],"range":["#1234C4","#1E64D2","#2D80E8","#4DA3F0","#90CBF7","#FDE282","#FDA00A","#FA640F","#E8170E","#B20A00","#FFFFFF"]}},"detail":{"field":"r"}}},
    {"data":{"name":"reg"},"transform":[{"filter":"datum.p=='c' && datum.z==2"}],"mark":{"type":"area","interpolate":"monotone","clip":true},"encoding":{"x":{"field":"x","type":"quantitative","scale":{"domain":[1,29],"nice":false,"zero":false},"axis":null},"y":{"field":"lo","type":"quantitative","stack":null,"scale":{"domain":[-14,14],"nice":false,"zero":false},"axis":null},"y2":{"field":"hi"},"color":{"field":"v","type":"quantitative","legend":null,"scale":{"type":"threshold","domain":[-0.4,-0.3,-0.2,-0.1,0,0.1,0.2,0.3,0.4,1],"range":["#1234C4","#1E64D2","#2D80E8","#4DA3F0","#90CBF7","#FDE282","#FDA00A","#FA640F","#E8170E","#B20A00","#FFFFFF"]}},"detail":{"field":"r"}}},
    {"data":{"name":"reg"},"transform":[{"filter":"datum.p=='c' && datum.z==3"}],"mark":{"type":"area","interpolate":"monotone","clip":true},"encoding":{"x":{"field":"x","type":"quantitative","scale":{"domain":[1,29],"nice":false,"zero":false},"axis":null},"y":{"field":"lo","type":"quantitative","stack":null,"scale":{"domain":[-14,14],"nice":false,"zero":false},"axis":null},"y2":{"field":"hi"},"color":{"field":"v","type":"quantitative","legend":null,"scale":{"type":"threshold","domain":[-0.4,-0.3,-0.2,-0.1,0,0.1,0.2,0.3,0.4,1],"range":["#1234C4","#1E64D2","#2D80E8","#4DA3F0","#90CBF7","#FDE282","#FDA00A","#FA640F","#E8170E","#B20A00","#FFFFFF"]}},"detail":{"field":"r"}}},
    {"data":{"name":"reg"},"transform":[{"filter":"datum.p=='c' && datum.z==4"}],"mark":{"type":"area","interpolate":"monotone","clip":true},"encoding":{"x":{"field":"x","type":"quantitative","scale":{"domain":[1,29],"nice":false,"zero":false},"axis":null},"y":{"field":"lo","type":"quantitative","stack":null,"scale":{"domain":[-14,14],"nice":false,"zero":false},"axis":null},"y2":{"field":"hi"},"color":{"field":"v","type":"quantitative","legend":null,"scale":{"type":"threshold","domain":[-0.4,-0.3,-0.2,-0.1,0,0.1,0.2,0.3,0.4,1],"range":["#1234C4","#1E64D2","#2D80E8","#4DA3F0","#90CBF7","#FDE282","#FDA00A","#FA640F","#E8170E","#B20A00","#FFFFFF"]}},"detail":{"field":"r"}}},
    {"data":{"name":"reg"},"transform":[{"filter":"datum.p=='c'"},{"fold":["lo","hi"],"as":["e","yy"]},{"filter":"(datum.e=='lo' && datum.lf==1) || (datum.e=='hi' && datum.hf==1)"}],"mark":{"type":"line","interpolate":"monotone","clip":true,"color":"#1b1b1b","strokeWidth":1.3},"encoding":{"x":{"field":"x","type":"quantitative","scale":{"domain":[1,29],"nice":false,"zero":false},"axis":null},"y":{"field":"yy","type":"quantitative","scale":{"domain":[-14,14],"nice":false,"zero":false},"axis":null},"detail":[{"field":"r"},{"field":"e"}],"strokeDash":{"condition":{"test":"datum.v < 0","value":[4,3]},"value":[1,0]}}},
    {"data":{"name":"msk"},"mark":{"type":"area","interpolate":"step-after","color":"white","clip":true},"encoding":{"x":{"field":"x","type":"quantitative","scale":{"domain":[1,29],"nice":false,"zero":false},"axis":{"orient":"top","labels":false,"ticks":false,"title":"CGCM","titleFont":"Liberation Mono","titleFontSize":24,"titleFontWeight":"bold","titleColor":"black","titleAlign":"left","titleAnchor":"start","titleX":51,"titleY":-11,"titleBaseline":"alphabetic","zindex":1,"domainColor":"black","domainWidth":2,"grid":false}},"y":{"field":"t","type":"quantitative","stack":null,"scale":{"domain":[-14,14],"nice":false,"zero":false},"axis":{"orient":"right","labels":false,"ticks":false,"title":null,"zindex":1,"domainColor":"black","domainWidth":2,"grid":false}},"y2":{"datum":14}}},
    {"data":{"name":"msk"},"mark":{"type":"area","interpolate":"step-after","color":"white","clip":true},"encoding":{"x":{"field":"x","type":"quantitative","scale":{"domain":[1,29],"nice":false,"zero":false},"axis":null},"y":{"field":"b","type":"quantitative","stack":null,"scale":{"domain":[-14,14],"nice":false,"zero":false},"axis":null},"y2":{"datum":-14}}}
  ],
  "resolve":{"axis":{"x":"independent","y":"independent"}}
 },
 {"width":361,"height":174,
  "title":{"text":"(e)","anchor":"start","frame":"group","font":"Liberation Serif","fontSize":28,"fontWeight":"bold","dx":4,"offset":-47,"baseline":"alphabetic"},
  "layer":[
    {"data":{"name":"reg"},"transform":[{"filter":"datum.p=='e' && datum.z==0"}],"mark":{"type":"area","interpolate":"monotone","clip":true},"encoding":{"x":{"field":"x","type":"quantitative","scale":{"domain":[1,29],"nice":false,"zero":false},"axis":{"orient":"bottom","values":[5,10,15,20,25],"title":"Forecast day","titleFont":"Liberation Mono","titleFontSize":24,"titleFontWeight":"bold","titleColor":"black","titlePadding":7,"zindex":1,"domainColor":"black","domainWidth":2,"tickColor":"black","tickWidth":1.5,"tickSize":6,"labelFont":"Liberation Sans","labelFontSize":18,"labelColor":"black","labelPadding":5,"grid":false}},"y":{"field":"lo","type":"quantitative","stack":null,"scale":{"domain":[-14,14],"nice":false,"zero":false},"axis":{"orient":"left","values":[-10,-5,0,5,10],"title":null,"zindex":1,"domainColor":"black","domainWidth":2,"tickColor":"black","tickWidth":1.5,"tickSize":6,"labelFont":"Liberation Sans","labelFontSize":18,"labelColor":"black","labelPadding":5,"grid":false}},"y2":{"field":"hi"},"color":{"field":"v","type":"quantitative","legend":null,"scale":{"type":"threshold","domain":[-0.4,-0.3,-0.2,-0.1,0,0.1,0.2,0.3,0.4,1],"range":["#1234C4","#1E64D2","#2D80E8","#4DA3F0","#90CBF7","#FDE282","#FDA00A","#FA640F","#E8170E","#B20A00","#FFFFFF"]}},"detail":{"field":"r"}}},
    {"data":{"name":"reg"},"transform":[{"filter":"datum.p=='e' && datum.z==1"}],"mark":{"type":"area","interpolate":"monotone","clip":true},"encoding":{"x":{"field":"x","type":"quantitative","scale":{"domain":[1,29],"nice":false,"zero":false},"axis":null},"y":{"field":"lo","type":"quantitative","stack":null,"scale":{"domain":[-14,14],"nice":false,"zero":false},"axis":null},"y2":{"field":"hi"},"color":{"field":"v","type":"quantitative","legend":null,"scale":{"type":"threshold","domain":[-0.4,-0.3,-0.2,-0.1,0,0.1,0.2,0.3,0.4,1],"range":["#1234C4","#1E64D2","#2D80E8","#4DA3F0","#90CBF7","#FDE282","#FDA00A","#FA640F","#E8170E","#B20A00","#FFFFFF"]}},"detail":{"field":"r"}}},
    {"data":{"name":"reg"},"transform":[{"filter":"datum.p=='e' && datum.z==2"}],"mark":{"type":"area","interpolate":"monotone","clip":true},"encoding":{"x":{"field":"x","type":"quantitative","scale":{"domain":[1,29],"nice":false,"zero":false},"axis":null},"y":{"field":"lo","type":"quantitative","stack":null,"scale":{"domain":[-14,14],"nice":false,"zero":false},"axis":null},"y2":{"field":"hi"},"color":{"field":"v","type":"quantitative","legend":null,"scale":{"type":"threshold","domain":[-0.4,-0.3,-0.2,-0.1,0,0.1,0.2,0.3,0.4,1],"range":["#1234C4","#1E64D2","#2D80E8","#4DA3F0","#90CBF7","#FDE282","#FDA00A","#FA640F","#E8170E","#B20A00","#FFFFFF"]}},"detail":{"field":"r"}}},
    {"data":{"name":"reg"},"transform":[{"filter":"datum.p=='e'"},{"fold":["lo","hi"],"as":["e","yy"]},{"filter":"(datum.e=='lo' && datum.lf==1) || (datum.e=='hi' && datum.hf==1)"}],"mark":{"type":"line","interpolate":"monotone","clip":true,"color":"#1b1b1b","strokeWidth":1.3},"encoding":{"x":{"field":"x","type":"quantitative","scale":{"domain":[1,29],"nice":false,"zero":false},"axis":null},"y":{"field":"yy","type":"quantitative","scale":{"domain":[-14,14],"nice":false,"zero":false},"axis":null},"detail":[{"field":"r"},{"field":"e"}],"strokeDash":{"condition":{"test":"datum.v < 0","value":[4,3]},"value":[1,0]}}},
    {"data":{"name":"msk"},"mark":{"type":"area","interpolate":"step-after","color":"white","clip":true},"encoding":{"x":{"field":"x","type":"quantitative","scale":{"domain":[1,29],"nice":false,"zero":false},"axis":{"orient":"top","labels":false,"ticks":false,"title":"AGCM","titleFont":"Liberation Mono","titleFontSize":24,"titleFontWeight":"bold","titleColor":"black","titleAlign":"left","titleAnchor":"start","titleX":51,"titleY":-11,"titleBaseline":"alphabetic","zindex":1,"domainColor":"black","domainWidth":2,"grid":false}},"y":{"field":"t","type":"quantitative","stack":null,"scale":{"domain":[-14,14],"nice":false,"zero":false},"axis":{"orient":"right","labels":false,"ticks":false,"title":null,"zindex":1,"domainColor":"black","domainWidth":2,"grid":false}},"y2":{"datum":14}}},
    {"data":{"name":"msk"},"mark":{"type":"area","interpolate":"step-after","color":"white","clip":true},"encoding":{"x":{"field":"x","type":"quantitative","scale":{"domain":[1,29],"nice":false,"zero":false},"axis":null},"y":{"field":"b","type":"quantitative","stack":null,"scale":{"domain":[-14,14],"nice":false,"zero":false},"axis":null},"y2":{"datum":-14}}}
  ],
  "resolve":{"axis":{"x":"independent","y":"independent"}}
 }
 ]},
{"title":{"text":"Western Pacfic (120−140E,5S−5N)","anchor":"start","font":"Liberation Mono","fontSize":23,"fontWeight":"bold","dx":2,"offset":2},
 "spacing":21,
 "vconcat":[
 {"width":361,"height":174,
  "title":{"text":"(b)","anchor":"start","frame":"group","font":"Liberation Serif","fontSize":28,"fontWeight":"bold","dx":4,"offset":-47,"baseline":"alphabetic"},
  "layer":[
    {"data":{"name":"reg"},"transform":[{"filter":"datum.p=='b' && datum.z==0"}],"mark":{"type":"area","interpolate":"monotone","clip":true},"encoding":{"x":{"field":"x","type":"quantitative","scale":{"domain":[1,29],"nice":false,"zero":false},"axis":{"orient":"bottom","values":[5,10,15,20,25],"title":null,"zindex":1,"domainColor":"black","domainWidth":2,"tickColor":"black","tickWidth":1.5,"tickSize":6,"labelFont":"Liberation Sans","labelFontSize":18,"labelColor":"black","labelPadding":5,"grid":false}},"y":{"field":"lo","type":"quantitative","stack":null,"scale":{"domain":[-14,14],"nice":false,"zero":false},"axis":{"orient":"left","values":[-10,-5,0,5,10],"title":null,"zindex":1,"domainColor":"black","domainWidth":2,"tickColor":"black","tickWidth":1.5,"tickSize":6,"labelFont":"Liberation Sans","labelFontSize":18,"labelColor":"black","labelPadding":5,"grid":false}},"y2":{"field":"hi"},"color":{"field":"v","type":"quantitative","legend":null,"scale":{"type":"threshold","domain":[-0.4,-0.3,-0.2,-0.1,0,0.1,0.2,0.3,0.4,1],"range":["#1234C4","#1E64D2","#2D80E8","#4DA3F0","#90CBF7","#FDE282","#FDA00A","#FA640F","#E8170E","#B20A00","#FFFFFF"]}},"detail":{"field":"r"}}},
    {"data":{"name":"reg"},"transform":[{"filter":"datum.p=='b' && datum.z==1"}],"mark":{"type":"area","interpolate":"monotone","clip":true},"encoding":{"x":{"field":"x","type":"quantitative","scale":{"domain":[1,29],"nice":false,"zero":false},"axis":null},"y":{"field":"lo","type":"quantitative","stack":null,"scale":{"domain":[-14,14],"nice":false,"zero":false},"axis":null},"y2":{"field":"hi"},"color":{"field":"v","type":"quantitative","legend":null,"scale":{"type":"threshold","domain":[-0.4,-0.3,-0.2,-0.1,0,0.1,0.2,0.3,0.4,1],"range":["#1234C4","#1E64D2","#2D80E8","#4DA3F0","#90CBF7","#FDE282","#FDA00A","#FA640F","#E8170E","#B20A00","#FFFFFF"]}},"detail":{"field":"r"}}},
    {"data":{"name":"reg"},"transform":[{"filter":"datum.p=='b' && datum.z==2"}],"mark":{"type":"area","interpolate":"monotone","clip":true},"encoding":{"x":{"field":"x","type":"quantitative","scale":{"domain":[1,29],"nice":false,"zero":false},"axis":null},"y":{"field":"lo","type":"quantitative","stack":null,"scale":{"domain":[-14,14],"nice":false,"zero":false},"axis":null},"y2":{"field":"hi"},"color":{"field":"v","type":"quantitative","legend":null,"scale":{"type":"threshold","domain":[-0.4,-0.3,-0.2,-0.1,0,0.1,0.2,0.3,0.4,1],"range":["#1234C4","#1E64D2","#2D80E8","#4DA3F0","#90CBF7","#FDE282","#FDA00A","#FA640F","#E8170E","#B20A00","#FFFFFF"]}},"detail":{"field":"r"}}},
    {"data":{"name":"reg"},"transform":[{"filter":"datum.p=='b' && datum.z==3"}],"mark":{"type":"area","interpolate":"monotone","clip":true},"encoding":{"x":{"field":"x","type":"quantitative","scale":{"domain":[1,29],"nice":false,"zero":false},"axis":null},"y":{"field":"lo","type":"quantitative","stack":null,"scale":{"domain":[-14,14],"nice":false,"zero":false},"axis":null},"y2":{"field":"hi"},"color":{"field":"v","type":"quantitative","legend":null,"scale":{"type":"threshold","domain":[-0.4,-0.3,-0.2,-0.1,0,0.1,0.2,0.3,0.4,1],"range":["#1234C4","#1E64D2","#2D80E8","#4DA3F0","#90CBF7","#FDE282","#FDA00A","#FA640F","#E8170E","#B20A00","#FFFFFF"]}},"detail":{"field":"r"}}},
    {"data":{"name":"reg"},"transform":[{"filter":"datum.p=='b'"},{"fold":["lo","hi"],"as":["e","yy"]},{"filter":"(datum.e=='lo' && datum.lf==1) || (datum.e=='hi' && datum.hf==1)"}],"mark":{"type":"line","interpolate":"monotone","clip":true,"color":"#1b1b1b","strokeWidth":1.3},"encoding":{"x":{"field":"x","type":"quantitative","scale":{"domain":[1,29],"nice":false,"zero":false},"axis":null},"y":{"field":"yy","type":"quantitative","scale":{"domain":[-14,14],"nice":false,"zero":false},"axis":null},"detail":[{"field":"r"},{"field":"e"}],"strokeDash":{"condition":{"test":"datum.v < 0","value":[4,3]},"value":[1,0]}}},
    {"data":{"name":"msk"},"mark":{"type":"area","interpolate":"step-after","color":"white","clip":true},"encoding":{"x":{"field":"x","type":"quantitative","scale":{"domain":[1,29],"nice":false,"zero":false},"axis":{"orient":"top","labels":false,"ticks":false,"title":"OBS","titleFont":"Liberation Mono","titleFontSize":24,"titleFontWeight":"bold","titleColor":"black","titleAlign":"left","titleAnchor":"start","titleX":51,"titleY":-11,"titleBaseline":"alphabetic","zindex":1,"domainColor":"black","domainWidth":2,"grid":false}},"y":{"field":"t","type":"quantitative","stack":null,"scale":{"domain":[-14,14],"nice":false,"zero":false},"axis":{"orient":"right","labels":false,"ticks":false,"title":null,"zindex":1,"domainColor":"black","domainWidth":2,"grid":false}},"y2":{"datum":14}}},
    {"data":{"name":"msk"},"mark":{"type":"area","interpolate":"step-after","color":"white","clip":true},"encoding":{"x":{"field":"x","type":"quantitative","scale":{"domain":[1,29],"nice":false,"zero":false},"axis":null},"y":{"field":"b","type":"quantitative","stack":null,"scale":{"domain":[-14,14],"nice":false,"zero":false},"axis":null},"y2":{"datum":-14}}}
  ],
  "resolve":{"axis":{"x":"independent","y":"independent"}}
 },
 {"width":361,"height":174,
  "title":{"text":"(d)","anchor":"start","frame":"group","font":"Liberation Serif","fontSize":28,"fontWeight":"bold","dx":4,"offset":-47,"baseline":"alphabetic"},
  "layer":[
    {"data":{"name":"reg"},"transform":[{"filter":"datum.p=='d' && datum.z==0"}],"mark":{"type":"area","interpolate":"monotone","clip":true},"encoding":{"x":{"field":"x","type":"quantitative","scale":{"domain":[1,29],"nice":false,"zero":false},"axis":{"orient":"bottom","values":[5,10,15,20,25],"title":null,"zindex":1,"domainColor":"black","domainWidth":2,"tickColor":"black","tickWidth":1.5,"tickSize":6,"labelFont":"Liberation Sans","labelFontSize":18,"labelColor":"black","labelPadding":5,"grid":false}},"y":{"field":"lo","type":"quantitative","stack":null,"scale":{"domain":[-14,14],"nice":false,"zero":false},"axis":{"orient":"left","values":[-10,-5,0,5,10],"title":null,"zindex":1,"domainColor":"black","domainWidth":2,"tickColor":"black","tickWidth":1.5,"tickSize":6,"labelFont":"Liberation Sans","labelFontSize":18,"labelColor":"black","labelPadding":5,"grid":false}},"y2":{"field":"hi"},"color":{"field":"v","type":"quantitative","legend":null,"scale":{"type":"threshold","domain":[-0.4,-0.3,-0.2,-0.1,0,0.1,0.2,0.3,0.4,1],"range":["#1234C4","#1E64D2","#2D80E8","#4DA3F0","#90CBF7","#FDE282","#FDA00A","#FA640F","#E8170E","#B20A00","#FFFFFF"]}},"detail":{"field":"r"}}},
    {"data":{"name":"reg"},"transform":[{"filter":"datum.p=='d' && datum.z==1"}],"mark":{"type":"area","interpolate":"monotone","clip":true},"encoding":{"x":{"field":"x","type":"quantitative","scale":{"domain":[1,29],"nice":false,"zero":false},"axis":null},"y":{"field":"lo","type":"quantitative","stack":null,"scale":{"domain":[-14,14],"nice":false,"zero":false},"axis":null},"y2":{"field":"hi"},"color":{"field":"v","type":"quantitative","legend":null,"scale":{"type":"threshold","domain":[-0.4,-0.3,-0.2,-0.1,0,0.1,0.2,0.3,0.4,1],"range":["#1234C4","#1E64D2","#2D80E8","#4DA3F0","#90CBF7","#FDE282","#FDA00A","#FA640F","#E8170E","#B20A00","#FFFFFF"]}},"detail":{"field":"r"}}},
    {"data":{"name":"reg"},"transform":[{"filter":"datum.p=='d' && datum.z==2"}],"mark":{"type":"area","interpolate":"monotone","clip":true},"encoding":{"x":{"field":"x","type":"quantitative","scale":{"domain":[1,29],"nice":false,"zero":false},"axis":null},"y":{"field":"lo","type":"quantitative","stack":null,"scale":{"domain":[-14,14],"nice":false,"zero":false},"axis":null},"y2":{"field":"hi"},"color":{"field":"v","type":"quantitative","legend":null,"scale":{"type":"threshold","domain":[-0.4,-0.3,-0.2,-0.1,0,0.1,0.2,0.3,0.4,1],"range":["#1234C4","#1E64D2","#2D80E8","#4DA3F0","#90CBF7","#FDE282","#FDA00A","#FA640F","#E8170E","#B20A00","#FFFFFF"]}},"detail":{"field":"r"}}},
    {"data":{"name":"reg"},"transform":[{"filter":"datum.p=='d' && datum.z==3"}],"mark":{"type":"area","interpolate":"monotone","clip":true},"encoding":{"x":{"field":"x","type":"quantitative","scale":{"domain":[1,29],"nice":false,"zero":false},"axis":null},"y":{"field":"lo","type":"quantitative","stack":null,"scale":{"domain":[-14,14],"nice":false,"zero":false},"axis":null},"y2":{"field":"hi"},"color":{"field":"v","type":"quantitative","legend":null,"scale":{"type":"threshold","domain":[-0.4,-0.3,-0.2,-0.1,0,0.1,0.2,0.3,0.4,1],"range":["#1234C4","#1E64D2","#2D80E8","#4DA3F0","#90CBF7","#FDE282","#FDA00A","#FA640F","#E8170E","#B20A00","#FFFFFF"]}},"detail":{"field":"r"}}},
    {"data":{"name":"reg"},"transform":[{"filter":"datum.p=='d'"},{"fold":["lo","hi"],"as":["e","yy"]},{"filter":"(datum.e=='lo' && datum.lf==1) || (datum.e=='hi' && datum.hf==1)"}],"mark":{"type":"line","interpolate":"monotone","clip":true,"color":"#1b1b1b","strokeWidth":1.3},"encoding":{"x":{"field":"x","type":"quantitative","scale":{"domain":[1,29],"nice":false,"zero":false},"axis":null},"y":{"field":"yy","type":"quantitative","scale":{"domain":[-14,14],"nice":false,"zero":false},"axis":null},"detail":[{"field":"r"},{"field":"e"}],"strokeDash":{"condition":{"test":"datum.v < 0","value":[4,3]},"value":[1,0]}}},
    {"data":{"name":"msk"},"mark":{"type":"area","interpolate":"step-after","color":"white","clip":true},"encoding":{"x":{"field":"x","type":"quantitative","scale":{"domain":[1,29],"nice":false,"zero":false},"axis":{"orient":"top","labels":false,"ticks":false,"title":"CGCM","titleFont":"Liberation Mono","titleFontSize":24,"titleFontWeight":"bold","titleColor":"black","titleAlign":"left","titleAnchor":"start","titleX":51,"titleY":-11,"titleBaseline":"alphabetic","zindex":1,"domainColor":"black","domainWidth":2,"grid":false}},"y":{"field":"t","type":"quantitative","stack":null,"scale":{"domain":[-14,14],"nice":false,"zero":false},"axis":{"orient":"right","labels":false,"ticks":false,"title":null,"zindex":1,"domainColor":"black","domainWidth":2,"grid":false}},"y2":{"datum":14}}},
    {"data":{"name":"msk"},"mark":{"type":"area","interpolate":"step-after","color":"white","clip":true},"encoding":{"x":{"field":"x","type":"quantitative","scale":{"domain":[1,29],"nice":false,"zero":false},"axis":null},"y":{"field":"b","type":"quantitative","stack":null,"scale":{"domain":[-14,14],"nice":false,"zero":false},"axis":null},"y2":{"datum":-14}}}
  ],
  "resolve":{"axis":{"x":"independent","y":"independent"}}
 },
 {"width":361,"height":174,
  "title":{"text":"(f)","anchor":"start","frame":"group","font":"Liberation Serif","fontSize":28,"fontWeight":"bold","dx":4,"offset":-47,"baseline":"alphabetic"},
  "layer":[
    {"data":{"name":"reg"},"transform":[{"filter":"datum.p=='f' && datum.z==0"}],"mark":{"type":"area","interpolate":"monotone","clip":true},"encoding":{"x":{"field":"x","type":"quantitative","scale":{"domain":[1,29],"nice":false,"zero":false},"axis":{"orient":"bottom","values":[5,10,15,20,25],"title":null,"zindex":1,"domainColor":"black","domainWidth":2,"tickColor":"black","tickWidth":1.5,"tickSize":6,"labelFont":"Liberation Sans","labelFontSize":18,"labelColor":"black","labelPadding":5,"grid":false}},"y":{"field":"lo","type":"quantitative","stack":null,"scale":{"domain":[-14,14],"nice":false,"zero":false},"axis":{"orient":"left","values":[-10,-5,0,5,10],"title":null,"zindex":1,"domainColor":"black","domainWidth":2,"tickColor":"black","tickWidth":1.5,"tickSize":6,"labelFont":"Liberation Sans","labelFontSize":18,"labelColor":"black","labelPadding":5,"grid":false}},"y2":{"field":"hi"},"color":{"field":"v","type":"quantitative","legend":null,"scale":{"type":"threshold","domain":[-0.4,-0.3,-0.2,-0.1,0,0.1,0.2,0.3,0.4,1],"range":["#1234C4","#1E64D2","#2D80E8","#4DA3F0","#90CBF7","#FDE282","#FDA00A","#FA640F","#E8170E","#B20A00","#FFFFFF"]}},"detail":{"field":"r"}}},
    {"data":{"name":"reg"},"transform":[{"filter":"datum.p=='f' && datum.z==1"}],"mark":{"type":"area","interpolate":"monotone","clip":true},"encoding":{"x":{"field":"x","type":"quantitative","scale":{"domain":[1,29],"nice":false,"zero":false},"axis":null},"y":{"field":"lo","type":"quantitative","stack":null,"scale":{"domain":[-14,14],"nice":false,"zero":false},"axis":null},"y2":{"field":"hi"},"color":{"field":"v","type":"quantitative","legend":null,"scale":{"type":"threshold","domain":[-0.4,-0.3,-0.2,-0.1,0,0.1,0.2,0.3,0.4,1],"range":["#1234C4","#1E64D2","#2D80E8","#4DA3F0","#90CBF7","#FDE282","#FDA00A","#FA640F","#E8170E","#B20A00","#FFFFFF"]}},"detail":{"field":"r"}}},
    {"data":{"name":"reg"},"transform":[{"filter":"datum.p=='f' && datum.z==2"}],"mark":{"type":"area","interpolate":"monotone","clip":true},"encoding":{"x":{"field":"x","type":"quantitative","scale":{"domain":[1,29],"nice":false,"zero":false},"axis":null},"y":{"field":"lo","type":"quantitative","stack":null,"scale":{"domain":[-14,14],"nice":false,"zero":false},"axis":null},"y2":{"field":"hi"},"color":{"field":"v","type":"quantitative","legend":null,"scale":{"type":"threshold","domain":[-0.4,-0.3,-0.2,-0.1,0,0.1,0.2,0.3,0.4,1],"range":["#1234C4","#1E64D2","#2D80E8","#4DA3F0","#90CBF7","#FDE282","#FDA00A","#FA640F","#E8170E","#B20A00","#FFFFFF"]}},"detail":{"field":"r"}}},
    {"data":{"name":"reg"},"transform":[{"filter":"datum.p=='f'"},{"fold":["lo","hi"],"as":["e","yy"]},{"filter":"(datum.e=='lo' && datum.lf==1) || (datum.e=='hi' && datum.hf==1)"}],"mark":{"type":"line","interpolate":"monotone","clip":true,"color":"#1b1b1b","strokeWidth":1.3},"encoding":{"x":{"field":"x","type":"quantitative","scale":{"domain":[1,29],"nice":false,"zero":false},"axis":null},"y":{"field":"yy","type":"quantitative","scale":{"domain":[-14,14],"nice":false,"zero":false},"axis":null},"detail":[{"field":"r"},{"field":"e"}],"strokeDash":{"condition":{"test":"datum.v < 0","value":[4,3]},"value":[1,0]}}},
    {"data":{"name":"msk"},"mark":{"type":"area","interpolate":"step-after","color":"white","clip":true},"encoding":{"x":{"field":"x","type":"quantitative","scale":{"domain":[1,29],"nice":false,"zero":false},"axis":{"orient":"top","labels":false,"ticks":false,"title":"AGCM","titleFont":"Liberation Mono","titleFontSize":24,"titleFontWeight":"bold","titleColor":"black","titleAlign":"left","titleAnchor":"start","titleX":51,"titleY":-11,"titleBaseline":"alphabetic","zindex":1,"domainColor":"black","domainWidth":2,"grid":false}},"y":{"field":"t","type":"quantitative","stack":null,"scale":{"domain":[-14,14],"nice":false,"zero":false},"axis":{"orient":"right","labels":false,"ticks":false,"title":null,"zindex":1,"domainColor":"black","domainWidth":2,"grid":false}},"y2":{"datum":14}}},
    {"data":{"name":"msk"},"mark":{"type":"area","interpolate":"step-after","color":"white","clip":true},"encoding":{"x":{"field":"x","type":"quantitative","scale":{"domain":[1,29],"nice":false,"zero":false},"axis":null},"y":{"field":"b","type":"quantitative","stack":null,"scale":{"domain":[-14,14],"nice":false,"zero":false},"axis":null},"y2":{"datum":-14}}}
  ],
  "resolve":{"axis":{"x":"independent","y":"independent"}}
 }
 ]}
],"spacing":31},
{"width":20,"height":612,
 "data":{"name":"cb"},
 "layer":[
  {"transform":[{"filter":"abs(datum.v) < 0.4"}],"mark":{"type":"rect","stroke":"black","strokeWidth":1},"encoding":{"x":{"datum":0,"type":"quantitative","scale":{"domain":[0,1],"nice":false,"zero":false},"axis":null},"x2":{"datum":1},"y":{"field":"lo","type":"quantitative","scale":{"domain":[-0.5032,0.8243],"nice":false,"zero":false},"axis":{"orient":"right","values":[-0.4,-0.3,-0.2,-0.1,0,0.1,0.2,0.3,0.4],"format":"~g","ticks":false,"domain":false,"labelFont":"Liberation Sans","labelFontSize":17,"labelColor":"black","labelPadding":7,"title":null,"grid":false,"zindex":1}},"y2":{"field":"hi"},"color":{"field":"v","type":"quantitative","legend":null,"scale":{"type":"threshold","domain":[-0.4,-0.3,-0.2,-0.1,0,0.1,0.2,0.3,0.4,1],"range":["#1234C4","#1E64D2","#2D80E8","#4DA3F0","#90CBF7","#FDE282","#FDA00A","#FA640F","#E8170E","#B20A00","#FFFFFF"]}}}},
  {"transform":[{"filter":"datum.v > 0.4"}],"mark":{"type":"point","shape":"M-1,0L0,-4.7L1,0Z","size":400,"filled":true,"opacity":1,"stroke":"black","strokeWidth":1},"encoding":{"x":{"datum":0.5,"type":"quantitative","scale":{"domain":[0,1],"nice":false,"zero":false},"axis":null},"y":{"field":"lo","type":"quantitative","scale":{"domain":[-0.5032,0.8243],"nice":false,"zero":false},"axis":null},"color":{"field":"v","type":"quantitative","legend":null,"scale":{"type":"threshold","domain":[-0.4,-0.3,-0.2,-0.1,0,0.1,0.2,0.3,0.4,1],"range":["#1234C4","#1E64D2","#2D80E8","#4DA3F0","#90CBF7","#FDE282","#FDA00A","#FA640F","#E8170E","#B20A00","#FFFFFF"]}}}},
  {"transform":[{"filter":"datum.v < -0.4"}],"mark":{"type":"point","shape":"M-1,0L0,4.7L1,0Z","size":400,"filled":true,"opacity":1,"stroke":"black","strokeWidth":1},"encoding":{"x":{"datum":0.5,"type":"quantitative","scale":{"domain":[0,1],"nice":false,"zero":false},"axis":null},"y":{"field":"hi","type":"quantitative","scale":{"domain":[-0.5032,0.8243],"nice":false,"zero":false},"axis":null},"color":{"field":"v","type":"quantitative","legend":null,"scale":{"type":"threshold","domain":[-0.4,-0.3,-0.2,-0.1,0,0.1,0.2,0.3,0.4,1],"range":["#1234C4","#1E64D2","#2D80E8","#4DA3F0","#90CBF7","#FDE282","#FDA00A","#FA640F","#E8170E","#B20A00","#FFFFFF"]}}}}
 ],
 "resolve":{"axis":{"x":"independent","y":"independent"}}}
],
"spacing":5
}
